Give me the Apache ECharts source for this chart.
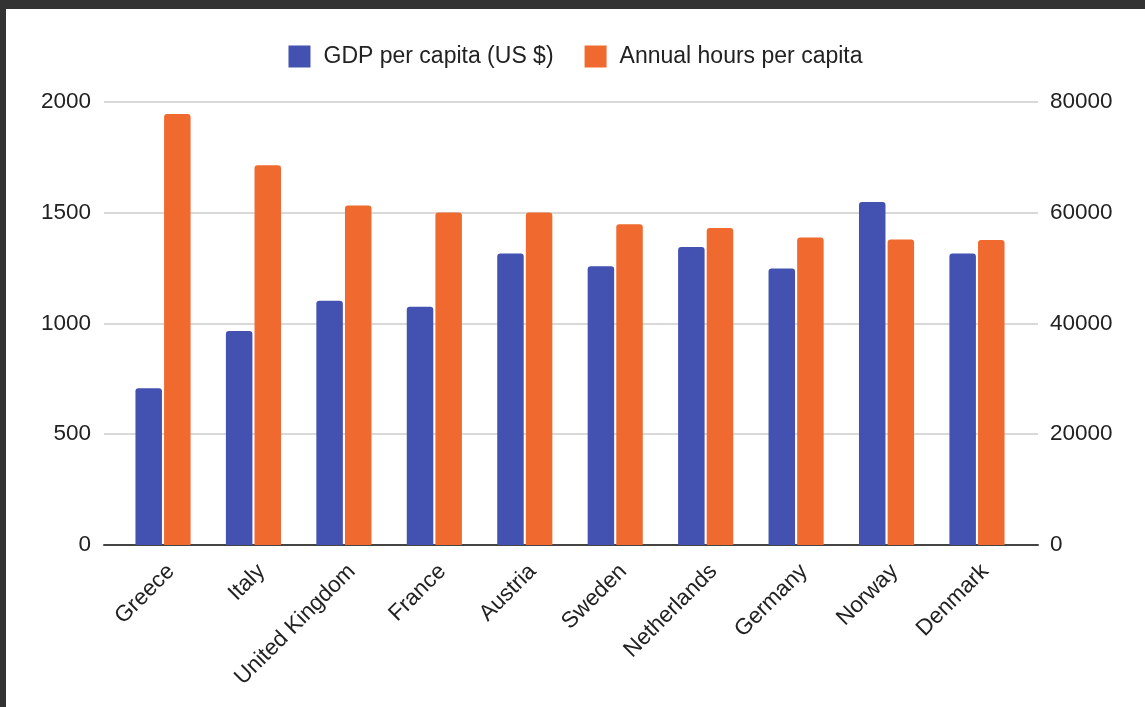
<!DOCTYPE html>
<html>
<head>
<meta charset="utf-8">
<script src="https://cdn.jsdelivr.net/npm/echarts@6/dist/echarts.min.js"></script>
<style>
  html, body { margin: 0; padding: 0; background: #333333; width: 1145px; height: 707px; overflow: hidden; }
  #chart { position: absolute; left: 6px; top: 9px; width: 1139px; height: 698px; background: #ffffff; }
</style>
</head>
<body>
<div id="chart"></div>
<script>
const countries = ['Greece', 'Italy', 'United Kingdom', 'France', 'Austria', 'Sweden', 'Netherlands', 'Germany', 'Norway', 'Denmark'];
const gdpPerCapita = [28300, 38600, 44100, 43000, 52600, 50300, 53800, 49900, 61900, 52600];
const annualHours = [1944, 1713, 1532, 1500, 1500, 1447, 1430, 1387, 1378, 1376];
const leftTicks = { min: 0, max: 2000, interval: 500 };
const rightTicks = { min: 0, max: 80000, interval: 20000 };
const seriesNames = ['GDP per capita (US $)', 'Annual hours per capita'];

const BLUE = '#4352b0';
const ORANGE = '#f0692e';
const FONT = 'Arial, "Liberation Sans", sans-serif';
const TXT = '#222222';
const FS = 22.5;

const plain = v => String(v);

const chart = echarts.init(document.getElementById('chart'), null, { renderer: 'canvas' });
const gridTop = 92.7, gridBottom = 162;
chart.setOption({
  animation: false,
  textStyle: { fontFamily: FONT },
  legend: {
    top: 31,
    left: 'center',
    itemWidth: 22,
    itemHeight: 22,
    itemGap: 31,
    icon: 'rect',
    textStyle: { fontSize: 23, color: TXT, fontFamily: FONT, padding: [0, 0, 0, 8] },
    data: seriesNames
  },
  grid: [
    { left: 98, right: 107, top: gridTop, bottom: gridBottom, containLabel: false },
    { left: 111.8, right: 122.8, top: gridTop, bottom: gridBottom, containLabel: false },
    { left: 119.8, right: 114.8, top: gridTop, bottom: gridBottom, containLabel: false }
  ],
  xAxis: [
    {
      gridIndex: 0, type: 'value', min: 0, max: 1,
      axisLine: { show: true, onZero: false, lineStyle: { color: '#444444', width: 2 } },
      axisTick: { show: false }, axisLabel: { show: false }, splitLine: { show: false }
    },
    {
      gridIndex: 1, type: 'category', data: countries, boundaryGap: true,
      axisLine: { show: false }, axisTick: { show: false }, axisLabel: { show: false }
    },
    {
      gridIndex: 2, type: 'category', data: countries, boundaryGap: true,
      axisLine: { show: false }, axisTick: { show: false },
      axisLabel: {
        interval: 0, rotate: 45, margin: 23, fontSize: FS, color: TXT, fontFamily: FONT
      }
    }
  ],
  yAxis: [
    {
      gridIndex: 0, type: 'value', position: 'left',
      min: leftTicks.min, max: leftTicks.max, interval: leftTicks.interval,
      axisLine: { show: false }, axisTick: { show: false },
      axisLabel: { margin: 13, fontSize: FS, color: TXT, fontFamily: FONT, formatter: plain },
      splitLine: { show: true, lineStyle: { color: '#cccccc', width: 1.5 } }
    },
    {
      gridIndex: 0, type: 'value', position: 'right',
      min: rightTicks.min, max: rightTicks.max, interval: rightTicks.interval,
      axisLine: { show: false }, axisTick: { show: false },
      axisLabel: { margin: 12, fontSize: FS, color: TXT, fontFamily: FONT, formatter: plain },
      splitLine: { show: false }
    },
    {
      gridIndex: 1, type: 'value', position: 'left',
      min: leftTicks.min, max: leftTicks.max, interval: leftTicks.interval,
      show: false, splitLine: { show: false }
    },
    {
      gridIndex: 1, type: 'value', position: 'right',
      min: rightTicks.min, max: rightTicks.max, interval: rightTicks.interval,
      show: false, splitLine: { show: false }
    },
    {
      gridIndex: 2, type: 'value', min: 0, max: 1, show: false, splitLine: { show: false }
    }
  ],
  series: [
    {
      name: seriesNames[0], type: 'bar', xAxisIndex: 1, yAxisIndex: 3,
      data: gdpPerCapita, barWidth: 26.5, barGap: '8%',
      itemStyle: { color: BLUE, borderRadius: [3, 3, 0, 0] }
    },
    {
      name: seriesNames[1], type: 'bar', xAxisIndex: 1, yAxisIndex: 2,
      data: annualHours, barWidth: 26.5, barGap: '8%',
      itemStyle: { color: ORANGE, borderRadius: [3, 3, 0, 0] }
    }
  ]
});
</script>
</body>
</html>
